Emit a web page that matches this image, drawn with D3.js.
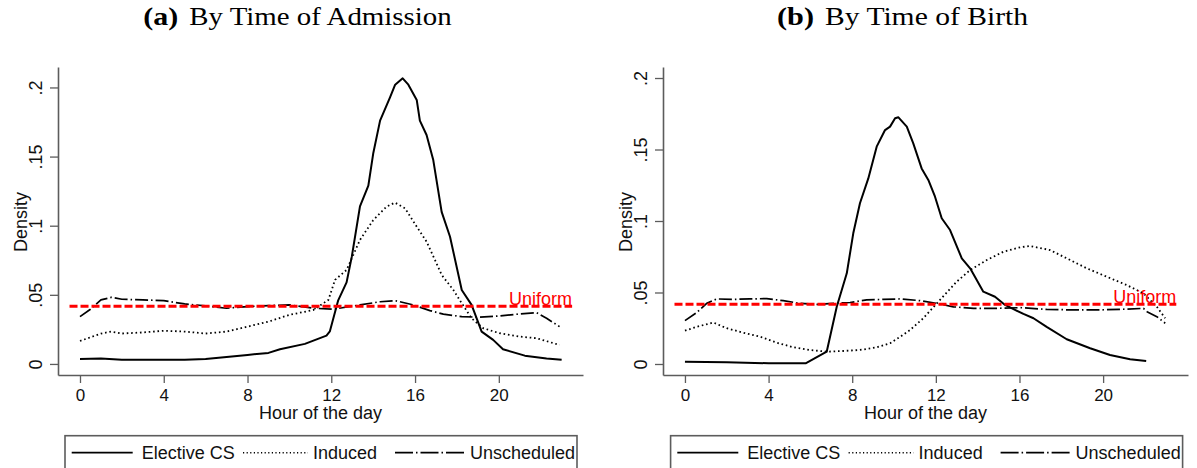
<!DOCTYPE html>
<html>
<head>
<meta charset="utf-8">
<script src="https://cdn.jsdelivr.net/npm/d3@7"></script>
<style>
  html, body { margin: 0; padding: 0; background: #fff; }
  svg { display: block; }
</style>
</head>
<body>
<svg id="chart" width="1197" height="468"></svg>
<script>
// ---------------- DATA ----------------
const xTickValues = [0, 4, 8, 12, 16, 20];
const xTickLabels = ["0", "4", "8", "12", "16", "20"];
const yTickValues = [0, 0.05, 0.1, 0.15, 0.2];
const yTickLabels = ["0", ".05", ".1", ".15", ".2"];
const seriesNames = ["Elective CS", "Induced", "Unscheduled"];
const panelTitlesBold = ["(a)", "(b)"];
const panelTitles = ["By Time of Admission", "By Time of Birth"];
const uniformHours = [-0.5, 23.5];
const uniformValue = 0.0417;

// Panel (a): by time of admission
const admElectiveHours = [0, 1, 2, 3, 4, 5, 6, 7, 8, 9, 9.55, 10.74, 11.77, 11.93, 12.33, 12.73, 12.98, 13.37, 13.77, 14.0, 14.33, 14.81, 15.05, 15.41, 15.68, 16.08, 16.23, 16.55, 16.87, 17.27, 17.67, 18.23, 18.7, 19.18, 19.73, 20.2, 21.24, 22.28, 23.0];
const admElective = [0.0036, 0.004, 0.003, 0.003, 0.003, 0.003, 0.0035, 0.005, 0.0065, 0.008, 0.0106, 0.0145, 0.0205, 0.0235, 0.046, 0.059, 0.0776, 0.114, 0.129, 0.152, 0.176, 0.193, 0.202, 0.2066, 0.202, 0.191, 0.176, 0.1656, 0.1475, 0.110, 0.092, 0.0535, 0.0427, 0.0234, 0.0174, 0.0106, 0.006, 0.004, 0.003];

const admInducedHours = [0, 1, 1.5, 2, 3, 4, 5, 6, 7, 8, 9, 10, 11.14, 11.86, 12.18, 12.73, 13.37, 14.0, 14.64, 15.04, 15.52, 16.08, 16.55, 16.95, 17.27, 17.83, 18.23, 18.7, 19.26, 20.05, 21.0, 21.8, 22.9];
const admInduced = [0.0166, 0.022, 0.0234, 0.022, 0.0228, 0.024, 0.0234, 0.022, 0.0234, 0.027, 0.0306, 0.0355, 0.039, 0.0463, 0.0608, 0.068, 0.0897, 0.104, 0.1138, 0.1167, 0.1126, 0.0993, 0.0885, 0.0752, 0.0644, 0.0535, 0.0439, 0.033, 0.0258, 0.0222, 0.0198, 0.0186, 0.0137];

const admUnschedHours = [0, 0.5, 1, 1.5, 2, 3, 4, 5, 6, 7, 8, 9, 10, 11.14, 12.1, 13.37, 14.33, 15.04, 15.92, 16.71, 17.35, 18.23, 19.1, 20.05, 21.0, 21.8, 22.28, 22.9];
const admUnsched = [0.0342, 0.0396, 0.0463, 0.0482, 0.0468, 0.0463, 0.0458, 0.0434, 0.042, 0.0403, 0.0415, 0.0422, 0.0427, 0.0403, 0.0396, 0.0427, 0.045, 0.0458, 0.0427, 0.0386, 0.036, 0.0342, 0.0338, 0.0347, 0.0362, 0.0371, 0.033, 0.027];

// Panel (b): by time of birth
const birElectiveHours = [0, 2, 4, 5.77, 6.78, 7.26, 7.74, 8.05, 8.37, 8.77, 9.17, 9.57, 9.81, 10.05, 10.21, 10.61, 10.92, 11.32, 11.64, 11.96, 12.28, 12.68, 13.24, 13.64, 14.27, 14.83, 15.31, 16.19, 16.67, 17.3, 18.26, 19.38, 20.33, 21.29, 22.06];
const birElective = [0.0016, 0.0012, 0.0005, 0.0005, 0.0086, 0.040, 0.0634, 0.0914, 0.1124, 0.1298, 0.152, 0.1636, 0.166, 0.1718, 0.1725, 0.166, 0.1543, 0.1368, 0.1287, 0.117, 0.1019, 0.0937, 0.0739, 0.0669, 0.0506, 0.047, 0.0413, 0.035, 0.032, 0.026, 0.0173, 0.011, 0.0063, 0.0033, 0.0021];

const birInducedHours = [0, 0.56, 1.36, 2.0, 2.79, 3.59, 4.39, 5.18, 5.98, 6.78, 7.57, 8.37, 9.17, 9.81, 10.29, 10.77, 11.4, 12.2, 13.0, 13.64, 14.44, 15.23, 16.03, 16.5, 17.46, 18.26, 19.22, 20.18, 21.13, 21.93, 22.57, 22.97];
const birInduced = [0.0233, 0.026, 0.029, 0.025, 0.0219, 0.0191, 0.0149, 0.0117, 0.0098, 0.0086, 0.0091, 0.0098, 0.0117, 0.0145, 0.019, 0.0238, 0.032, 0.0448, 0.0576, 0.0657, 0.0727, 0.0785, 0.0816, 0.0825, 0.0797, 0.0739, 0.0669, 0.061, 0.0552, 0.0494, 0.040, 0.032];

const birUnschedHours = [0, 0.56, 1.04, 1.52, 2.31, 3.11, 3.91, 4.7, 5.5, 6.3, 7.1, 7.9, 8.69, 9.49, 10.29, 11.24, 12.04, 12.84, 13.8, 14.9, 16.03, 17.3, 18.57, 19.7, 20.8, 21.93, 22.1, 22.57, 22.97];
const birUnsched = [0.0303, 0.0359, 0.0424, 0.0455, 0.0452, 0.0455, 0.0457, 0.0443, 0.0424, 0.0417, 0.0424, 0.043, 0.0448, 0.0452, 0.0455, 0.0443, 0.0424, 0.040, 0.0389, 0.0389, 0.0394, 0.0382, 0.0378, 0.0378, 0.0382, 0.0389, 0.0366, 0.0331, 0.0285];

// ---------------- DRAW ----------------
const svg = d3.select("#chart");
const SANS = "'Liberation Sans', Arial, Helvetica, sans-serif";
const SERIF = "'Liberation Serif', 'Times New Roman', serif";
const AXIS_COLOR = "#5c5c5c";

const styles = [
  { width: 2, dash: null },
  { width: 1.8, dash: "1.6,2.8" },
  { width: 1.7, dash: "13,3,1.5,3" }
];

const panels = [
  {
    xDomain: [-1.05, 24.02], xRange: [58, 583],
    yDomain: [-0.008, 0.2148], yRange: [375, 67],
    series: [[admElectiveHours, admElective], [admInducedHours, admInduced], [admUnschedHours, admUnsched]],
    titleBold: [143.3, 178.3], titleRest: [189.3, 451.7],
    legendX: 65
  },
  {
    xDomain: [-1.05, 24.06], xRange: [663, 1188],
    yDomain: [-0.0077, 0.2077], yRange: [375, 67],
    series: [[birElectiveHours, birElective], [birInducedHours, birInduced], [birUnschedHours, birUnsched]],
    titleBold: [777, 814], titleRest: [825, 1028],
    legendX: 670.6
  }
];

panels.forEach((p, pi) => {
  const x = d3.scaleLinear().domain(p.xDomain).range(p.xRange);
  const y = d3.scaleLinear().domain(p.yDomain).range(p.yRange);
  const g = svg.append("g");

  // Title
  g.append("text")
    .attr("x", p.titleBold[0]).attr("y", 25)
    .attr("font-family", SERIF).attr("font-size", 25).attr("font-weight", "bold")
    .attr("textLength", p.titleBold[1] - p.titleBold[0]).attr("lengthAdjust", "spacingAndGlyphs")
    .text(panelTitlesBold[pi]);
  g.append("text")
    .attr("x", p.titleRest[0]).attr("y", 25)
    .attr("font-family", SERIF).attr("font-size", 25)
    .attr("textLength", p.titleRest[1] - p.titleRest[0]).attr("lengthAdjust", "spacingAndGlyphs")
    .text(panelTitles[pi]);

  // X axis
  const xAxis = d3.axisBottom(x).tickValues(xTickValues)
    .tickFormat((d, i) => xTickLabels[i]).tickSize(8).tickSizeOuter(0);
  const gx = g.append("g").attr("transform", `translate(0,${p.yRange[0]})`).call(xAxis);
  gx.select(".domain").attr("stroke", AXIS_COLOR).attr("stroke-width", 1.6);
  gx.selectAll(".tick line").attr("stroke", AXIS_COLOR).attr("stroke-width", 1.3);
  gx.selectAll(".tick text")
    .attr("font-family", SANS).attr("font-size", 17).attr("fill", "#111")
    .attr("y", 26).attr("dy", 0);

  // Y axis
  const yAxis = d3.axisLeft(y).tickValues(yTickValues)
    .tickFormat((d, i) => yTickLabels[i]).tickSize(8).tickSizeOuter(0);
  const gy = g.append("g").attr("transform", `translate(${p.xRange[0]},0)`).call(yAxis);
  gy.select(".domain").attr("stroke", AXIS_COLOR).attr("stroke-width", 1.6);
  gy.selectAll(".tick line").attr("stroke", AXIS_COLOR).attr("stroke-width", 1.3);
  gy.selectAll(".tick text")
    .attr("font-family", SANS).attr("font-size", 18).attr("fill", "#111")
    .attr("transform", "rotate(-90)")
    .attr("x", 0).attr("y", -16).attr("dy", 0)
    .attr("text-anchor", "middle");

  // Axis titles
  g.append("text")
    .attr("x", (p.xRange[0] + p.xRange[1]) / 2).attr("y", 419)
    .attr("text-anchor", "middle")
    .attr("font-family", SANS).attr("font-size", 18).attr("fill", "#111")
    .text("Hour of the day");
  g.append("text")
    .attr("transform", `translate(${p.xRange[0] - 31.5},222) rotate(-90)`)
    .attr("text-anchor", "middle")
    .attr("font-family", SANS).attr("font-size", 18).attr("fill", "#111")
    .text("Density");

  // Curves
  const line = d3.line().x(d => x(d[0])).y(d => y(d[1]));
  p.series.forEach((s, si) => {
    const pts = s[0].map((h, i) => [h, s[1][i]]);
    g.append("path")
      .attr("d", line(pts))
      .attr("fill", "none")
      .attr("stroke", "#000")
      .attr("stroke-width", styles[si].width)
      .attr("stroke-linejoin", "round")
      .attr("stroke-dasharray", styles[si].dash);
  });

  // Uniform reference line
  const upts = uniformHours.map(h => [h, uniformValue]);
  g.append("path")
    .attr("d", line(upts))
    .attr("fill", "none")
    .attr("stroke", "#ff0000")
    .attr("stroke-width", 3)
    .attr("stroke-dasharray", "8,3");
  g.append("text")
    .attr("x", x(uniformHours[1])).attr("y", y(uniformValue) - 1.5)
    .attr("text-anchor", "end")
    .attr("font-family", SANS).attr("font-size", 18).attr("fill", "#ff0000")
    .text("Uniform");

  // Legend
  const lx = p.legendX;
  const lg = g.append("g").attr("transform", `translate(${lx},0)`);
  lg.append("rect")
    .attr("x", 0).attr("y", 435.7).attr("width", 512).attr("height", 45)
    .attr("fill", "#fff").attr("stroke", AXIS_COLOR).attr("stroke-width", 1.6);
  const legendItems = [
    { x1: 6.7, x2: 67.7, tx: 76.7 },
    { x1: 178, x2: 243, tx: 248 },
    { x1: 330, x2: 400, tx: 405 }
  ];
  legendItems.forEach((it, i) => {
    lg.append("line")
      .attr("x1", it.x1).attr("x2", it.x2).attr("y1", 452.7).attr("y2", 452.7)
      .attr("stroke", "#000")
      .attr("stroke-width", i === 0 ? 1.8 : (i === 1 ? 1.4 : styles[i].width))
      .attr("stroke-dasharray", i === 2 ? "18,3,1.5,3" : (i === 1 ? "1.2,2.4" : null));
    lg.append("text")
      .attr("x", it.tx).attr("y", 459)
      .attr("font-family", SANS).attr("font-size", 18).attr("fill", "#111")
      .text(seriesNames[i]);
  });
});
</script>
</body>
</html>
